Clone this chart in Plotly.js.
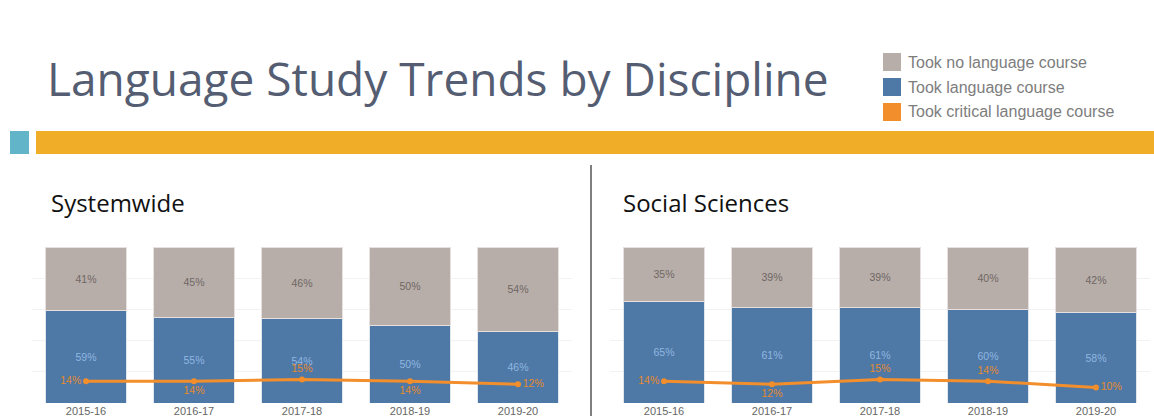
<!DOCTYPE html>
<html>
<head>
<meta charset="utf-8">
<script src="https://cdn.plot.ly/plotly-3.0.1.min.js"></script>
<style>html,body{margin:0;padding:0;background:#fff;}#chart{width:1154px;height:416px;}</style>
</head>
<body>
<div id="chart"></div>
<script>
const years = ["2015-16", "2016-17", "2017-18", "2018-19", "2019-20"];
const panelTitles = ["Systemwide", "Social Sciences"];
const seriesNames = ["Took no language course", "Took language course", "Took critical language course"];

const sysNoLang = [41, 45, 46, 50, 54];
const sysLang = [59, 55, 54, 50, 46];
const sysCritical = [14, 14, 15, 14, 12];

const socNoLang = [35, 39, 39, 40, 42];
const socLang = [65, 61, 61, 60, 58];
const socCritical = [14, 12, 15, 14, 10];

const sysCritPos = ["middle left", "bottom center", "top center", "bottom center", "middle right"];
const socCritPos = ["middle left", "bottom center", "top center", "top center", "middle right"];

const colors = { noLang: "#b8aea9", lang: "#4e78a5", crit: "#f28e2b" };
const pct = a => a.map(v => v + "%");

function panel(xa, ya, noLang, lang, crit, critPos) {
  return [
    { type: "bar", x: years, y: lang, xaxis: xa, yaxis: ya, name: seriesNames[1],
      marker: { color: colors.lang, line: { color: "#dfe6ee", width: 1 } },
      text: pct(lang), textposition: "inside", insidetextanchor: "middle", textangle: 0,
      constraintext: "none", textfont: { color: "#8fb7e2", size: 10.5, family: "Liberation Sans, Arial" },
      hoverinfo: "skip", showlegend: false },
    { type: "bar", x: years, y: noLang, xaxis: xa, yaxis: ya, name: seriesNames[0],
      marker: { color: colors.noLang, line: { color: "#e6e1de", width: 1 } },
      text: pct(noLang), textposition: "inside", insidetextanchor: "middle", textangle: 0,
      constraintext: "none", textfont: { color: "#6e6764", size: 10.5, family: "Liberation Sans, Arial" },
      hoverinfo: "skip", showlegend: false },
    { type: "scatter", mode: "lines+markers+text", x: years, y: crit, xaxis: xa, yaxis: ya,
      name: seriesNames[2], line: { color: colors.crit, width: 3 },
      marker: { color: colors.crit, size: 6 },
      text: pct(crit), textposition: critPos, cliponaxis: false,
      textfont: { color: "#e58a2e", size: 10.5, family: "Liberation Sans, Arial" },
      hoverinfo: "skip", showlegend: false }
  ];
}

const data = [
  ...panel("x", "y", sysNoLang, sysLang, sysCritical, sysCritPos),
  ...panel("x2", "y2", socNoLang, socLang, socCritical, socCritPos)
];

const W = 1154, H = 416;
const px = v => v / W, py = v => 1 - v / H;

const xCommon = { type: "category", showgrid: false, zeroline: false, showline: false, ticks: "",
  tickfont: { size: 11, color: "#666", family: "Liberation Sans, Arial" }, fixedrange: true };
const yCommon = { range: [0, 100], dtick: 20, showgrid: true, gridcolor: "#f2f2f2", gridwidth: 1,
  zeroline: false, showticklabels: false, ticks: "", fixedrange: true };

const legendShapes = [], legendAnn = [];
const legColors = [colors.noLang, colors.lang, colors.crit];
seriesNames.forEach((n, i) => {
  const top = 53 + i * 25;
  legendShapes.push({ type: "rect", xref: "paper", yref: "paper", x0: px(883), x1: px(901), y0: py(top), y1: py(top + 18),
    fillcolor: legColors[i], line: { width: 0 } });
  legendAnn.push({ xref: "paper", yref: "paper", x: px(906), y: py(top + 9), xanchor: "left", yanchor: "middle",
    text: n, showarrow: false, font: { size: 16, color: "#7d7d7d", family: "Liberation Sans, Arial" } });
});

const layout = {
  width: W, height: H,
  margin: { l: 0, r: 0, t: 0, b: 0 },
  paper_bgcolor: "#fff", plot_bgcolor: "#fff",
  barmode: "stack", bargap: 0.25,
  showlegend: false,
  title: { text: "Language Study Trends by Discipline", x: px(47), xanchor: "left", xref: "paper",
    y: py(80), yanchor: "middle", yref: "container",
    font: { size: 46, color: "#545d72", family: "Open Sans, Noto Sans, sans-serif" } },
  xaxis: { ...xCommon, domain: [px(32), px(572)], anchor: "y" },
  yaxis: { ...yCommon, domain: [py(403), py(247)], anchor: "x" },
  xaxis2: { ...xCommon, domain: [px(610), px(1150)], anchor: "y2" },
  yaxis2: { ...yCommon, domain: [py(403), py(247)], anchor: "x2" },
  shapes: [
    { type: "rect", xref: "paper", yref: "paper", x0: px(10), x1: px(29), y0: py(154), y1: py(131), fillcolor: "#62b4c9", line: { width: 0 } },
    { type: "rect", xref: "paper", yref: "paper", x0: px(36), x1: px(1154), y0: py(154), y1: py(131), fillcolor: "#f0ad27", line: { width: 0 } },
    { type: "line", xref: "paper", yref: "paper", x0: px(591), x1: px(591), y0: py(165), y1: py(416), line: { color: "#555", width: 1.5 } },
    ...legendShapes
  ],
  annotations: [
    { xref: "paper", yref: "paper", x: px(49), y: py(203), xanchor: "left", yanchor: "middle", showarrow: false,
      text: panelTitles[0], font: { size: 24, color: "#111", family: "Open Sans, Noto Sans, sans-serif" } },
    { xref: "paper", yref: "paper", x: px(621), y: py(203), xanchor: "left", yanchor: "middle", showarrow: false,
      text: panelTitles[1], font: { size: 24, color: "#111", family: "Open Sans, Noto Sans, sans-serif" } },
    ...legendAnn
  ]
};

Plotly.newPlot("chart", data, layout, { displayModeBar: false, staticPlot: true });
</script>
</body>
</html>
